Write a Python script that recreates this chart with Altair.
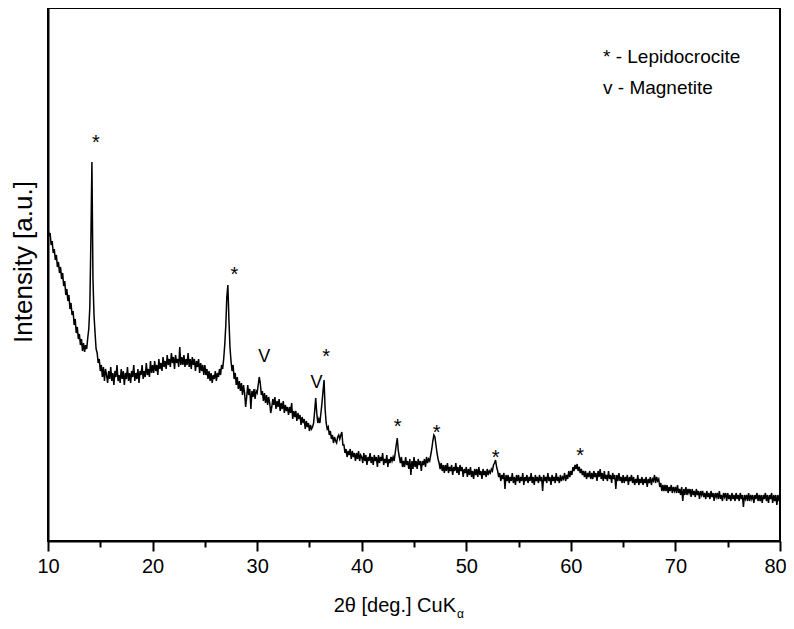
import altair as alt
import pandas as pd

# 2theta scan grid (deg), step 0.1
two_theta = [round(10 + 0.1 * i, 1) for i in range(701)]

# Intensity (a.u.), 10 deg per segment
seg_10_20 = [313, 305, 308, 296, 300, 288, 292, 281, 286, 274,
             279, 268, 274, 262, 268, 255, 260, 246, 252, 240,
             246, 232, 238, 226, 230, 216, 222, 208, 214, 202,
             207, 196, 202, 190, 198, 189, 196, 192, 203, 212,
             234, 300, 379, 262, 226, 208, 192, 188, 178, 182,
             170, 176, 164, 174, 160, 172, 166, 158, 170, 162,
             174, 160, 168, 156, 170, 164, 176, 160, 166, 158,
             172, 162, 170, 156, 168, 162, 174, 160, 168, 158,
             170, 164, 176, 160, 168, 162, 172, 158, 170, 166,
             176, 162, 170, 164, 178, 166, 172, 164, 180, 168]
seg_20_30 = [176, 168, 180, 170, 176, 166, 182, 172, 178, 170,
             184, 174, 180, 172, 186, 176, 182, 174, 188, 178,
             184, 172, 186, 178, 182, 174, 194, 176, 184, 176,
             186, 174, 182, 176, 188, 174, 182, 172, 184, 176,
             182, 170, 180, 174, 182, 168, 178, 170, 176, 166,
             176, 166, 172, 162, 170, 160, 168, 158, 166, 162,
             170, 160, 168, 164, 172, 166, 176, 172, 182, 196,
             215, 244, 256, 222, 194, 180, 170, 176, 162, 168,
             156, 164, 152, 160, 150, 158, 146, 156, 148, 134,
             144, 156, 146, 152, 132, 150, 144, 152, 142, 150]
seg_30_40 = [148, 156, 164, 158, 146, 150, 140, 148, 138, 146,
             136, 144, 138, 128, 134, 142, 136, 144, 132, 140,
             134, 142, 130, 138, 132, 140, 128, 136, 130, 134,
             126, 134, 128, 138, 122, 130, 124, 130, 120, 128,
             122, 126, 116, 124, 118, 122, 112, 120, 114, 118,
             110, 116, 112, 114, 118, 130, 143, 128, 118, 122,
             118, 128, 138, 150, 161, 132, 118, 112, 114, 106,
             110, 102, 106, 98, 104, 100, 98, 104, 106, 102,
             106, 109, 96, 96, 88, 92, 84, 90, 86, 92,
             82, 90, 84, 88, 80, 88, 82, 90, 80, 86]
seg_40_50 = [84, 78, 88, 80, 86, 76, 84, 80, 88, 78,
             84, 76, 86, 80, 84, 74, 86, 78, 84, 80,
             88, 76, 82, 78, 86, 74, 82, 78, 84, 80,
             84, 80, 88, 96, 103, 90, 84, 78, 84, 74,
             80, 74, 84, 76, 80, 72, 82, 66, 80, 72,
             84, 74, 80, 72, 82, 76, 80, 70, 80, 76,
             82, 74, 84, 78, 82, 80, 86, 92, 100, 106,
             104, 96, 88, 82, 78, 72, 78, 70, 76, 68,
             76, 70, 78, 68, 74, 70, 76, 66, 74, 70,
             78, 68, 74, 66, 76, 70, 74, 64, 72, 68]
seg_50_60 = [74, 64, 72, 66, 74, 64, 70, 62, 72, 66,
             72, 64, 74, 66, 70, 62, 72, 66, 70, 64,
             72, 66, 70, 68, 72, 70, 76, 78, 81, 74,
             70, 64, 68, 60, 66, 62, 68, 52, 66, 60,
             66, 58, 64, 60, 68, 58, 64, 56, 66, 60,
             66, 58, 64, 60, 68, 56, 64, 60, 66, 58,
             64, 60, 68, 58, 64, 56, 66, 60, 64, 58,
             66, 60, 64, 50, 66, 60, 64, 58, 68, 60,
             64, 56, 66, 60, 64, 58, 68, 60, 64, 58,
             66, 60, 64, 62, 68, 60, 66, 62, 70, 64]
seg_60_70 = [70, 66, 74, 70, 76, 72, 77, 70, 74, 68,
             72, 66, 70, 64, 70, 62, 68, 64, 70, 62,
             68, 62, 70, 64, 68, 60, 70, 64, 72, 62,
             68, 60, 70, 62, 66, 60, 70, 62, 66, 58,
             68, 62, 66, 52, 66, 60, 68, 60, 64, 58,
             66, 58, 64, 60, 66, 56, 64, 60, 66, 58,
             64, 56, 62, 58, 66, 56, 62, 58, 64, 56,
             62, 58, 64, 54, 62, 58, 64, 56, 62, 60,
             66, 58, 64, 60, 62, 54, 58, 50, 56, 50,
             56, 50, 56, 48, 54, 50, 56, 48, 54, 50]
seg_70_80 = [54, 48, 56, 48, 52, 46, 54, 40, 52, 46,
             54, 46, 52, 48, 52, 44, 52, 46, 50, 44,
             52, 46, 50, 42, 50, 46, 50, 44, 48, 42,
             50, 44, 48, 42, 50, 44, 48, 40, 48, 44,
             48, 42, 50, 42, 46, 40, 48, 44, 48, 40,
             48, 42, 46, 40, 48, 42, 46, 40, 48, 42,
             46, 40, 48, 42, 46, 34, 46, 42, 46, 40,
             48, 40, 46, 42, 46, 38, 46, 42, 48, 40,
             46, 40, 46, 38, 46, 42, 48, 40, 46, 38,
             46, 42, 48, 38, 46, 40, 46, 36, 46, 40, 44]

intensity = seg_10_20 + seg_20_30 + seg_30_40 + seg_40_50 + seg_50_60 + seg_60_70 + seg_70_80

# peak markers
lepido_x = [14.59, 27.82, 36.6, 43.44, 47.17, 52.81, 60.88]
lepido_y = [404, 272, 190, 120, 114, 89, 91]
magnet_x = [30.68, 35.68]
magnet_y = [186, 160]

legend_lines = ["* - Lepidocrocite", "v - Magnetite"]
y_title = "Intensity [a.u.]"

FONT = "Liberation Sans"
W, H = 732, 533

df = pd.DataFrame({"two_theta": two_theta, "intensity": intensity})
df_l = pd.DataFrame({"x": lepido_x, "y": lepido_y, "t": ["*"] * len(lepido_x)})
df_m = pd.DataFrame({"x": magnet_x, "y": magnet_y, "t": ["V"] * len(magnet_x)})

xscale = alt.Scale(domain=[10, 80], nice=False, zero=False)
yscale = alt.Scale(domain=[0, 533], nice=False, zero=False)

xaxis = alt.Axis(
    values=list(range(10, 81, 5)),
    labelExpr="datum.value % 10 === 0 ? datum.label : ''",
    tickSize={"condition": {"test": "datum.value % 10 === 0", "value": 10}, "value": 6},
    labelOffset={"condition": {"test": "datum.value === 80", "value": -5}, "value": 0},
    tickWidth=2, tickColor="black", domainWidth=2, domainColor="black",
    labelFont=FONT, labelFontSize=20, labelColor="black", labelPadding=5,
    grid=False, title=None, labelFlush=False,
)
yaxis = alt.Axis(
    labels=False, ticks=False, grid=False, domainWidth=2, domainColor="black",
    title=None,
)

line = alt.Chart(df).mark_line(color="black", strokeWidth=1.5).encode(
    x=alt.X("two_theta:Q", scale=xscale, axis=xaxis),
    y=alt.Y("intensity:Q", scale=yscale, axis=yaxis),
)

frame = alt.Chart(pd.DataFrame({"f": [0]})).mark_rect(
    filled=False, stroke="black", strokeWidth=2, fill="transparent"
).encode(x=alt.value(0), x2=alt.value(W), y=alt.value(0), y2=alt.value(H))

stars = alt.Chart(df_l).mark_text(
    font=FONT, fontSize=20, color="black", baseline="alphabetic", dy=12
).encode(x=alt.X("x:Q", scale=xscale), y=alt.Y("y:Q", scale=yscale), text="t:N")

vees = alt.Chart(df_m).mark_text(
    font=FONT, fontSize=18, color="black", baseline="alphabetic", dy=6.5
).encode(x=alt.X("x:Q", scale=xscale), y=alt.Y("y:Q", scale=yscale), text="t:N")

ytitle = alt.Chart(pd.DataFrame({"t": [y_title]})).mark_text(
    font=FONT, fontSize=26, color="black", align="center", baseline="top", angle=270
).encode(x=alt.value(-37), y=alt.value(254), text="t:N")

leg1 = alt.Chart(pd.DataFrame({"t": [legend_lines[0]]})).mark_text(
    font=FONT, fontSize=19, color="black", align="left", baseline="alphabetic"
).encode(x=alt.value(555), y=alt.value(55), text="t:N")
leg2 = alt.Chart(pd.DataFrame({"t": [legend_lines[1]]})).mark_text(
    font=FONT, fontSize=19, color="black", align="left", baseline="alphabetic"
).encode(x=alt.value(555), y=alt.value(86), text="t:N")

xt1 = alt.Chart(pd.DataFrame({"t": ["2θ [deg.] CuK"]})).mark_text(
    font=FONT, fontSize=20, color="black", align="right", baseline="alphabetic"
).encode(x=alt.value(408), y=alt.value(604), text="t:N")
xt2 = alt.Chart(pd.DataFrame({"t": ["α"]})).mark_text(
    font=FONT, fontSize=12, color="black", align="left", baseline="alphabetic"
).encode(x=alt.value(409), y=alt.value(610), text="t:N")

chart = alt.layer(line, frame, stars, vees, ytitle, leg1, leg2, xt1, xt2).properties(
    width=W, height=H,
    autosize=alt.AutoSizeParams(type="none"),
    padding={"left": 40, "top": 0, "right": 6, "bottom": 80},
).configure_view(strokeWidth=0).configure(background="white")

chart.save("out.html", embed_options={"renderer": "svg", "actions": False})
